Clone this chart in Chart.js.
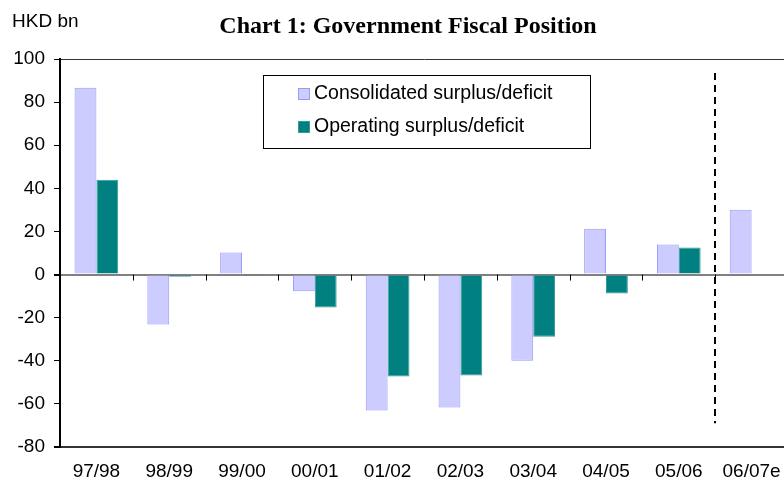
<!DOCTYPE html>
<html>
<head>
<meta charset="utf-8">
<script src="https://cdn.jsdelivr.net/npm/chart.js@4.4.1/dist/chart.umd.min.js"></script>
<style>
  html, body { margin: 0; padding: 0; background: #fff; overflow: hidden; }
  /* plot runs a few pixels past the right edge of the window */
  #wrap { width: 788px; height: 484px; }
</style>
</head>
<body>
<div id="wrap"><canvas id="fiscal"></canvas></div>
<script>
// fiscal years, HKD bn
const years = ['97/98', '98/99', '99/00', '00/01', '01/02', '02/03', '03/04', '04/05', '05/06', '06/07e'];
const consolidated = [86.7, -23.2, 10.2, -7.8, -63.1, -61.7, -40.0, 21.3, 13.9, 30.1];
const operating = [44.0, -1.0, -0.6, -15.3, -47.3, -46.8, -28.8, -8.8, 12.5, null];
const yTicks = [100, 80, 60, 40, 20, 0, -20, -40, -60, -80];

const SANS = '"Liberation Sans", Arial, sans-serif';

// headings, legend box, zero-line ticks and the estimate divider
const extras = {
  id: 'extras',
  afterDraw(chart) {
    const {ctx, scales: {x, y}} = chart;
    ctx.save();

    ctx.fillStyle = '#000';
    ctx.textBaseline = 'middle';
    ctx.font = '19px ' + SANS;
    ctx.textAlign = 'left';
    ctx.fillText('HKD bn', 12, 22);
    ctx.font = 'bold 24px "Liberation Serif", "Times New Roman", serif';
    ctx.textAlign = 'center';
    ctx.fillText('Chart 1: Government Fiscal Position', 408, 27);

    // small ticks on the zero line between categories
    const y0 = y.getPixelForValue(0);
    ctx.strokeStyle = '#000';
    ctx.lineWidth = 1;
    for (let i = 0; i < years.length - 1; i++) {
      const bx = Math.round((x.getPixelForValue(i) + x.getPixelForValue(i + 1)) / 2) + 0.5;
      ctx.beginPath();
      ctx.moveTo(bx, y0);
      ctx.lineTo(bx, y0 + 6);
      ctx.stroke();
    }

    // dashed divider before the estimate year
    const dx = Math.round((x.getPixelForValue(8) + x.getPixelForValue(9)) / 2);
    ctx.lineWidth = 2;
    ctx.setLineDash([7, 5]);
    ctx.beginPath();
    ctx.moveTo(dx, y.getPixelForValue(93.5));
    ctx.lineTo(dx, y.getPixelForValue(-69));
    ctx.stroke();
    ctx.setLineDash([]);

    // legend
    ctx.lineWidth = 1;
    ctx.strokeStyle = '#000';
    ctx.strokeRect(263.5, 75.5, 327, 73);
    ctx.font = '19.5px ' + SANS;
    ctx.textAlign = 'left';
    chart.data.datasets.forEach((ds, i) => {
      const cy = 94 + i * 33;
      ctx.fillStyle = ds.backgroundColor;
      ctx.fillRect(298, cy - 6, 12, 12);
      ctx.strokeStyle = ds.borderColor;
      ctx.strokeRect(298.5, cy - 5.5, 11, 11);
      ctx.fillStyle = '#000';
      ctx.fillText(ds.label, 314, cy);
    });
    ctx.restore();
  }
};

new Chart(document.getElementById('fiscal'), {
  type: 'bar',
  data: {
    labels: years,
    datasets: [{
      label: 'Consolidated surplus/deficit',
      data: consolidated,
      backgroundColor: '#ccccff',
      borderColor: '#9999ff',
      borderWidth: 1
    }, {
      label: 'Operating surplus/deficit',
      data: operating,
      backgroundColor: '#008080',
      borderColor: '#339999',
      borderWidth: 1
    }]
  },
  options: {
    responsive: true,
    maintainAspectRatio: false,
    animation: false,
    categoryPercentage: 0.6,
    barPercentage: 1,
    layout: { padding: { top: 59, right: 0, left: 0, bottom: 0 } },
    plugins: {
      legend: { display: false },
      tooltip: { enabled: false }
    },
    scales: {
      x: {
        grid: { display: false, drawTicks: false },
        border: { display: false },
        ticks: {
          color: '#000',
          padding: 13,
          font: { family: SANS, size: 19 }
        },
        afterFit(scale) {
          scale.height = 37;
          scale.paddingRight = 0;
          scale.paddingLeft = 0;
        }
      },
      y: {
        min: -80,
        max: 100,
        afterBuildTicks(scale) {
          scale.ticks = yTicks.map(v => ({ value: v }));
        },
        grid: {
          color: ctx => {
            const v = ctx.tick && ctx.tick.value;
            if (v === 0) return '#808080';
            if (v === 100 || v === -80) return '#333';
            return 'rgba(0,0,0,0)';
          },
          lineWidth: ctx => (ctx.tick && (ctx.tick.value === 0 || ctx.tick.value === -80)) ? 2 : 1,
          tickColor: '#000',
          tickLength: 6
        },
        border: { display: true, color: '#000', width: 2 },
        ticks: {
          color: '#000',
          padding: 9,
          font: { family: SANS, size: 19 }
        },
        afterFit(scale) { scale.width = 60; }
      }
    }
  },
  plugins: [extras]
});
</script>
</body>
</html>
